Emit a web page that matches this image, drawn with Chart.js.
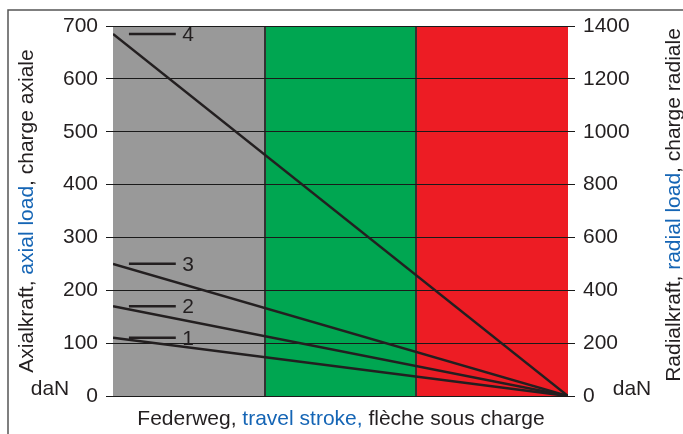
<!DOCTYPE html>
<html>
<head>
<meta charset="utf-8">
<script src="https://cdn.jsdelivr.net/npm/chart.js@4"></script>
<style>
  html, body { margin: 0; padding: 0; background: #fff; }
  #wrap { width: 683px; height: 434px; position: relative; }
</style>
</head>
<body>
<div id="wrap"><canvas id="loadChart" width="683" height="434"></canvas></div>
<script>
// curves 1..4, axial load (daN) at zero stroke, all end at 0 at full stroke
const curveNames = ['1', '2', '3', '4'];
const axialStart = [110, 170, 250, 685];
const strokeRange = [0, 1];

// background zones along the stroke
const zoneBounds = [0, 1 / 3, 2 / 3, 1];
const zoneColors = ['#999999', '#00a651', '#ed1c24'];

// short key marks next to the curve numbers
const keyFrom = 0.035;
const keyTo = 0.138;
const keyText = 0.152;

const axialTicks = [0, 100, 200, 300, 400, 500, 600, 700];
const radialTicks = [0, 200, 400, 600, 800, 1000, 1200, 1400];

const dark = '#231f20';
const blue = '#1565b5';
const font = '"Liberation Sans", Arial, sans-serif';
const fontSize = 21;

const datasets = [];
curveNames.forEach((name, i) => {
  datasets.push({
    label: 'curve ' + name,
    data: [{ x: strokeRange[0], y: axialStart[i] }, { x: strokeRange[1], y: 0 }],
    borderColor: dark,
    borderWidth: 2.5,
    pointRadius: 0
  });
  datasets.push({
    label: 'key ' + name,
    data: [{ x: keyFrom, y: axialStart[i] }, { x: keyTo, y: axialStart[i] }],
    borderColor: dark,
    borderWidth: 2.5,
    pointRadius: 0
  });
});

// draw a line of text made of coloured pieces, centred on (0,0)
function drawPieces(ctx, pieces) {
  const total = pieces.reduce((s, p) => s + ctx.measureText(p[0]).width, 0);
  let x = -total / 2;
  pieces.forEach(p => {
    ctx.fillStyle = p[1];
    ctx.fillText(p[0], x, 0);
    x += ctx.measureText(p[0]).width;
  });
}

const decor = {
  id: 'decor',
  beforeDraw(chart) {
    const ctx = chart.ctx;
    const xs = chart.scales.x;
    const area = chart.chartArea;
    ctx.save();
    // frame
    ctx.strokeStyle = '#555';
    ctx.lineWidth = 1.5;
    ctx.beginPath();
    ctx.moveTo(8, 434);
    ctx.lineTo(8, 10);
    ctx.lineTo(683, 10);
    ctx.stroke();
    // zones
    zoneColors.forEach((c, i) => {
      const x0 = xs.getPixelForValue(zoneBounds[i]);
      const x1 = xs.getPixelForValue(zoneBounds[i + 1]);
      ctx.fillStyle = c;
      ctx.fillRect(x0, area.top, x1 - x0, area.bottom - area.top);
    });
    ctx.strokeStyle = '#333';
    ctx.lineWidth = 2;
    for (let i = 1; i < zoneBounds.length - 1; i++) {
      const x = Math.round(xs.getPixelForValue(zoneBounds[i]));
      ctx.beginPath();
      ctx.moveTo(x, area.top);
      ctx.lineTo(x, area.bottom);
      ctx.stroke();
    }
    ctx.restore();
  },
  afterDraw(chart) {
    const ctx = chart.ctx;
    const xs = chart.scales.x;
    const ys = chart.scales.y;
    const area = chart.chartArea;
    ctx.save();
    ctx.font = fontSize + 'px ' + font;
    ctx.textBaseline = 'middle';
    // curve numbers
    ctx.fillStyle = dark;
    ctx.textAlign = 'left';
    curveNames.forEach((name, i) => {
      ctx.fillText(name, xs.getPixelForValue(keyText), ys.getPixelForValue(axialStart[i]) + 1);
    });
    // units
    ctx.textAlign = 'center';
    const y0 = ys.getPixelForValue(0) - 7;
    ctx.fillText('daN', 50, y0);
    ctx.fillText('daN', 632, y0);
    // axis titles
    ctx.textAlign = 'left';
    ctx.save();
    ctx.translate(341, 419);
    drawPieces(ctx, [['Federweg, ', dark], ['travel stroke,', blue], [' flèche sous charge', dark]]);
    ctx.restore();
    const midY = (area.top + area.bottom) / 2;
    ctx.save();
    ctx.translate(27, midY);
    ctx.rotate(-Math.PI / 2);
    drawPieces(ctx, [['Axialkraft, ', dark], ['axial load', blue], [', charge axiale', dark]]);
    ctx.restore();
    ctx.save();
    ctx.translate(674, midY - 6);
    ctx.rotate(-Math.PI / 2);
    drawPieces(ctx, [['Radialkraft, ', dark], ['radial load', blue], [', charge radiale', dark]]);
    ctx.restore();
    ctx.restore();
  }
};

new Chart(document.getElementById('loadChart'), {
  type: 'line',
  data: { datasets },
  options: {
    responsive: false,
    animation: false,
    layout: { padding: { top: 26, bottom: 38, left: 0, right: 0 } },
    plugins: { legend: { display: false }, tooltip: { enabled: false } },
    scales: {
      x: {
        type: 'linear',
        min: strokeRange[0],
        max: strokeRange[1],
        display: false
      },
      y: {
        position: 'left',
        min: axialTicks[0],
        max: axialTicks[axialTicks.length - 1],
        afterBuildTicks: s => { s.ticks = axialTicks.map(v => ({ value: v })); },
        afterFit: s => { s.width = 113; },
        border: { display: false },
        grid: { color: '#1a1a1a', lineWidth: 1, tickLength: 7 },
        ticks: { color: dark, font: { family: font, size: fontSize }, padding: 8, callback: v => String(v) }
      },
      y2: {
        position: 'right',
        min: radialTicks[0],
        max: radialTicks[radialTicks.length - 1],
        afterBuildTicks: s => { s.ticks = radialTicks.map(v => ({ value: v })); },
        afterFit: s => { s.width = 115; },
        border: { display: false },
        grid: { drawOnChartArea: false, color: '#1a1a1a', lineWidth: 1, tickLength: 7 },
        ticks: { color: dark, font: { family: font, size: fontSize }, padding: 8, callback: v => String(v) }
      }
    }
  },
  plugins: [decor]
});
</script>
</body>
</html>
